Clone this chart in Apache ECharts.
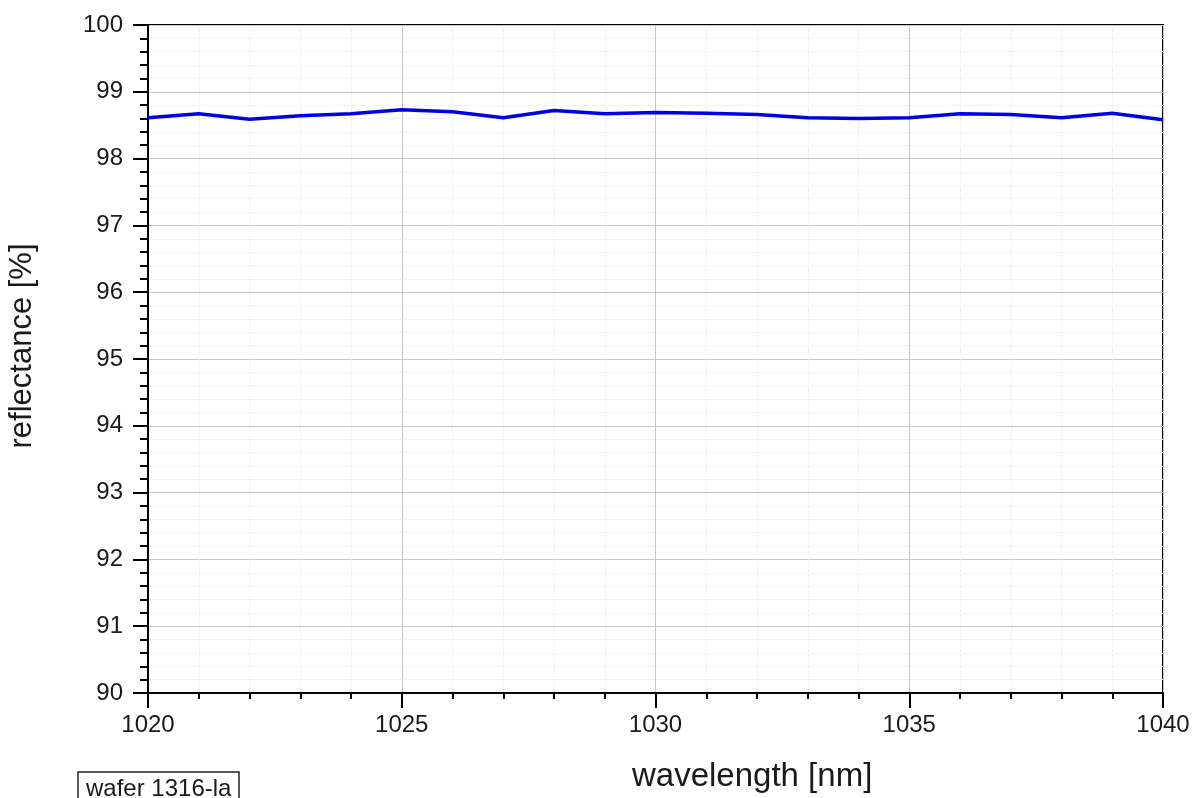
<!DOCTYPE html>
<html>
<head>
<meta charset="utf-8">
<script src="https://cdn.jsdelivr.net/npm/echarts@6/dist/echarts.min.js"></script>
<style>
html,body{margin:0;padding:0;background:#fff;}
#chart{width:1202px;height:798px;}
</style>
</head>
<body>
<div id="chart"></div>
<script>
const wavelengths = [1020,1021,1022,1023,1024,1025,1026,1027,1028,1029,1030,1031,1032,1033,1034,1035,1036,1037,1038,1039,1040];
const reflectance = [98.61,98.67,98.59,98.64,98.67,98.73,98.70,98.61,98.72,98.67,98.69,98.68,98.66,98.61,98.60,98.61,98.67,98.66,98.61,98.68,98.58];
const xTitle = 'wavelength [nm]';
const yTitle = 'reflectance [%]';
const sampleLabel = 'wafer 1316-la';

const FONT = '"Liberation Sans", Arial, sans-serif';
const TXT = '#1a1a1a';
const chart = echarts.init(document.getElementById('chart'), null, {renderer:'canvas'});
chart.setOption({
  animation:false,
  backgroundColor:'#fff',
  title:{
    text: sampleLabel,
    left: 78, top: 772,
    padding:[5,8,4,8],
    borderColor:'#222', borderWidth:1.5,
    textStyle:{fontFamily:FONT, fontSize:24, fontWeight:'normal', color:TXT}
  },
  graphic:[{
    type:'text', left:632, top:760, silent:true,
    style:{text:xTitle, font:'33px "Liberation Sans", Arial, sans-serif', fill:TXT}
  },{
    type:'text', x:22, y:346, rotation:Math.PI/2, silent:true,
    style:{text:yTitle, font:'31px "Liberation Sans", Arial, sans-serif', fill:TXT, align:'center', verticalAlign:'middle'}
  }],
  grid:{left:148, right:39, top:25, bottom:105, outerBoundsMode:'none', containLabel:false,
        show:true, borderColor:'#000', borderWidth:2, backgroundColor:'transparent'},
  xAxis:{
    type:'value', min:1020, max:1040, interval:5,
    axisLine:{show:true, lineStyle:{color:'#000', width:2}},
    axisTick:{show:true, inside:false, length:15, lineStyle:{color:'#000', width:2}},
    minorTick:{show:true, splitNumber:5, length:6, lineStyle:{color:'#000', width:2}},
    axisLabel:{fontFamily:FONT, fontSize:24, color:TXT, margin:20, formatter: v => String(v)},
    splitLine:{show:true, lineStyle:{color:'#c8c8c8', width:1}},
    minorSplitLine:{show:true, lineStyle:{color:'#e6e6e6', width:1, type:'dotted'}}
  },
  yAxis:{
    type:'value', min:90, max:100, interval:1,
    axisLine:{show:true, lineStyle:{color:'#000', width:2}},
    axisTick:{show:true, inside:false, length:15, lineStyle:{color:'#000', width:2}},
    minorTick:{show:true, splitNumber:5, length:8, lineStyle:{color:'#000', width:2}},
    axisLabel:{fontFamily:FONT, fontSize:24, color:TXT, margin:25, formatter: v => String(v)},
    splitLine:{show:true, lineStyle:{color:'#c8c8c8', width:1}},
    minorSplitLine:{show:true, lineStyle:{color:'#e6e6e6', width:1, type:'dotted'}}
  },
  series:[{
    type:'line',
    data: wavelengths.map((w,i)=>[w, reflectance[i]]),
    showSymbol:false,
    lineStyle:{color:'#0000e6', width:3.5},
    itemStyle:{color:'#0000e6'}
  }]
});
</script>
</body>
</html>
